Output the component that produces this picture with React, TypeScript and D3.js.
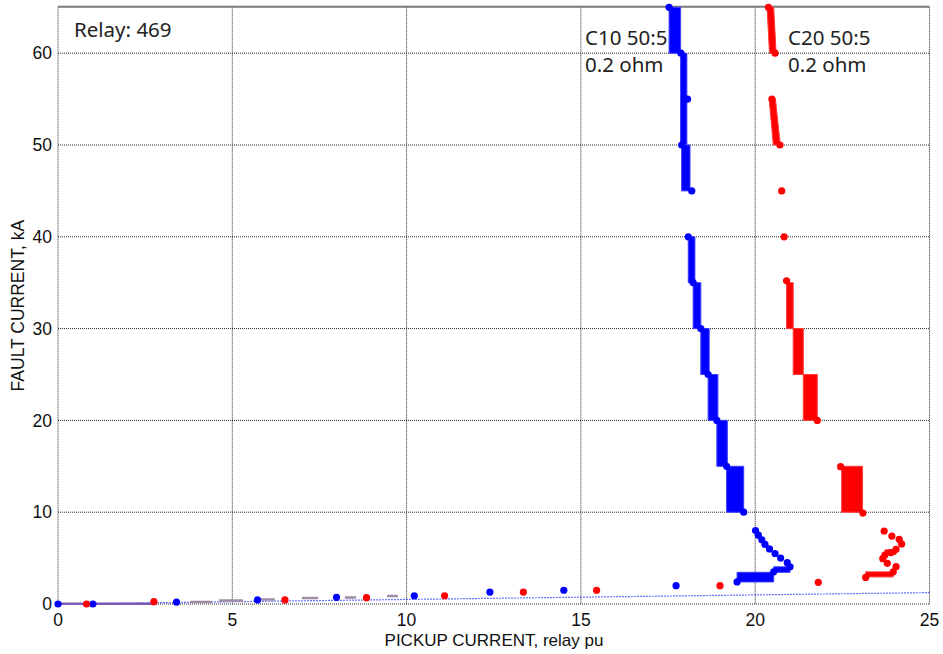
import React from "react";
import * as d3 from "d3";

// ---- data (pickup current in relay pu, fault current in kA) ----
const xTicks = [0, 5, 10, 15, 20, 25];
const yTicks = [0, 10, 20, 30, 40, 50, 60];

// bands: [yLow, yHigh, xLeftAtLow, xRightAtLow, xLeftAtHigh, xRightAtHigh]
const blueBands: number[][] = [
  [60, 65, 17.53, 17.86, 17.53, 17.86],
  [50, 60, 17.86, 18.04, 17.86, 18.04],
  [45, 50, 17.89, 18.13, 17.89, 18.13],
  [35, 40, 18.08, 18.27, 18.08, 18.27],
  [30, 35, 18.22, 18.44, 18.22, 18.44],
  [25, 30, 18.44, 18.68, 18.44, 18.68],
  [20, 25, 18.65, 18.93, 18.65, 18.93],
  [15, 20, 18.9, 19.2, 18.9, 19.2],
  [10, 15, 19.18, 19.67, 19.18, 19.67],
  [3.45, 4.05, 20.53, 21.0, 20.53, 21.0],
  [2.4, 3.45, 19.48, 20.53, 19.48, 20.53],
];
const redBands: number[][] = [
  [60, 65, 20.41, 20.6, 20.34, 20.53],
  [50, 55, 20.52, 20.72, 20.4, 20.58],
  [30, 35, 20.9, 21.09, 20.9, 21.09],
  [25, 30, 21.09, 21.38, 21.09, 21.38],
  [20, 25, 21.38, 21.78, 21.38, 21.78],
  [10, 15, 22.48, 23.08, 22.48, 23.08],
  [5.4, 5.9, 23.72, 24.04, 23.72, 24.04],
  [2.95, 3.5, 23.17, 23.96, 23.17, 23.96],
];

const blueX = [0, 1.0, 3.4, 5.72, 7.99, 10.22, 12.39, 14.51, 17.73, 19.48, 20.53, 21.0, 20.92, 20.73, 20.57, 20.41, 20.28, 20.19, 20.09, 20.01, 19.67, 19.18, 18.9, 18.65, 18.44, 18.22, 18.08, 18.18, 17.89, 18.06, 17.87, 17.53];
const blueY = [0, 0, 0.2, 0.44, 0.73, 0.9, 1.3, 1.5, 2.0, 2.4, 3.5, 4.05, 4.5, 5.0, 5.5, 6.0, 6.5, 7.0, 7.5, 8.0, 10, 15, 20, 25, 30, 35, 40, 45, 50, 55, 60, 65];
const redX = [0.82, 2.75, 6.51, 8.85, 11.09, 13.35, 15.45, 18.99, 21.81, 23.17, 23.96, 24.04, 23.79, 23.66, 23.72, 23.89, 24.04, 24.2, 24.13, 23.92, 23.7, 23.09, 22.45, 21.78, 20.9, 20.83, 20.76, 20.71, 20.48, 20.57, 20.38];
const redY = [0, 0.25, 0.44, 0.69, 0.9, 1.3, 1.5, 2.0, 2.36, 2.9, 3.5, 4.07, 4.43, 4.94, 5.34, 5.59, 5.96, 6.54, 7.05, 7.4, 7.95, 9.9, 14.96, 20, 35.2, 40, 45, 50, 55, 60, 65];

// short mauve dashes near the origin: [xStart, xEnd, y]
const dashX0 = [3.79, 4.62, 5.79, 7.0, 8.23, 9.44];
const dashX1 = [4.42, 5.31, 6.22, 7.46, 8.55, 9.75];
const dashY = [0.22, 0.38, 0.49, 0.65, 0.71, 0.87];

// thin reference line
const refLineX = [0, 25];
const refLineY = [0, 1.24];

const W = 943;
const H = 654;

export default function App() {
  const x = d3.scaleLinear().domain([0, 25]).range([58, 929.5]);
  const y = d3.scaleLinear().domain([0, 65]).range([604, 7.3]);

  const bandPath = (b: number[]) => {
    const [y0, y1, xl0, xr0, xl1, xr1] = b;
    const line = d3.line<[number, number]>().x((d) => x(d[0])).y((d) => y(d[1]));
    return line([[xl0, y0], [xr0, y0], [xr1, y1], [xl1, y1]]) + "Z";
  };

  const refLine = d3.line<number>().x((_, i) => x(refLineX[i])).y((_, i) => y(refLineY[i]));

  const gridColor = "#222";
  const tickFont = "'Liberation Sans', Arial, sans-serif";
  const annFont = "'Noto Sans', 'DejaVu Sans', sans-serif";

  return (
    <svg width={W} height={H} style={{ position: "absolute", left: 0, top: 0, display: "block", background: "#fff" }}>
      {/* grid */}
      {xTicks.map((t) => (
        <line key={"gx" + t} x1={x(t)} x2={x(t)} y1={y(65)} y2={y(0)} stroke={gridColor} strokeWidth={1} strokeDasharray="1,1" />
      ))}
      {yTicks.map((t) => (
        <line key={"gy" + t} x1={x(0)} x2={x(25)} y1={y(t)} y2={y(t)} stroke={gridColor} strokeWidth={1} strokeDasharray="1,1" />
      ))}
      <line x1={x(0)} x2={x(25)} y1={y(65) - 0.5} y2={y(65) - 0.5} stroke="#7a7a7a" strokeWidth={2} />

      {/* reference line */}
      <path d={refLine(refLineX) || ""} stroke="#3040ff" strokeWidth={1.2} strokeDasharray="2,1" fill="none" opacity={0.75} />

      {/* low-current purple segment and mauve dashes */}
      <line x1={x(0)} x2={x(2.75)} y1={y(0.03)} y2={y(0.03)} stroke="#7a5cb8" strokeWidth={2.5} />
      {dashX0.map((d, i) => (
        <line key={"d" + i} x1={x(d)} x2={x(dashX1[i])} y1={y(dashY[i])} y2={y(dashY[i])} stroke="#a08ca4" strokeWidth={2.5} />
      ))}

      {/* bands */}
      {blueBands.map((b, i) => (
        <path key={"bb" + i} d={bandPath(b)} fill="#0000ff" stroke="#3a3aff" strokeWidth={1} />
      ))}
      {redBands.map((b, i) => (
        <path key={"rb" + i} d={bandPath(b)} fill="#ff0000" stroke="#ff3a3a" strokeWidth={1} />
      ))}

      {/* dots */}
      {blueX.map((v, i) => (
        <circle key={"bd" + i} cx={x(v)} cy={y(blueY[i])} r={3.6} fill="#0000ff" />
      ))}
      {redX.map((v, i) => (
        <circle key={"rd" + i} cx={x(v)} cy={y(redY[i])} r={3.6} fill="#ff0000" />
      ))}

      {/* tick labels */}
      {xTicks.map((t) => (
        <text key={"tx" + t} x={x(t)} y={626} textAnchor="middle" fontFamily={tickFont} fontSize={17.5} fill="#111">
          {t}
        </text>
      ))}
      {yTicks.map((t) => (
        <text key={"ty" + t} x={52} y={y(t)} dy="0.35em" textAnchor="end" fontFamily={tickFont} fontSize={17.5} fill="#111">
          {t}
        </text>
      ))}

      {/* axis titles */}
      <text x={494} y={646} textAnchor="middle" fontFamily={tickFont} fontSize={17} fill="#111">
        PICKUP CURRENT, relay pu
      </text>
      <text transform={`translate(24,${y(32.5)}) rotate(-90)`} textAnchor="middle" fontFamily={tickFont} fontSize={17.5} fill="#111">
        FAULT CURRENT, kA
      </text>

      {/* annotations */}
      <text x={74} y={37} fontFamily={annFont} fontSize={20.5} fill="#222">Relay: 469</text>
      <text x={585} y={45} fontFamily={annFont} fontSize={20.5} fill="#222">C10 50:5</text>
      <text x={585} y={72} fontFamily={annFont} fontSize={20.5} fill="#222">0.2 ohm</text>
      <text x={788} y={45} fontFamily={annFont} fontSize={20.5} fill="#222">C20 50:5</text>
      <text x={788} y={72} fontFamily={annFont} fontSize={20.5} fill="#222">0.2 ohm</text>
    </svg>
  );
}
